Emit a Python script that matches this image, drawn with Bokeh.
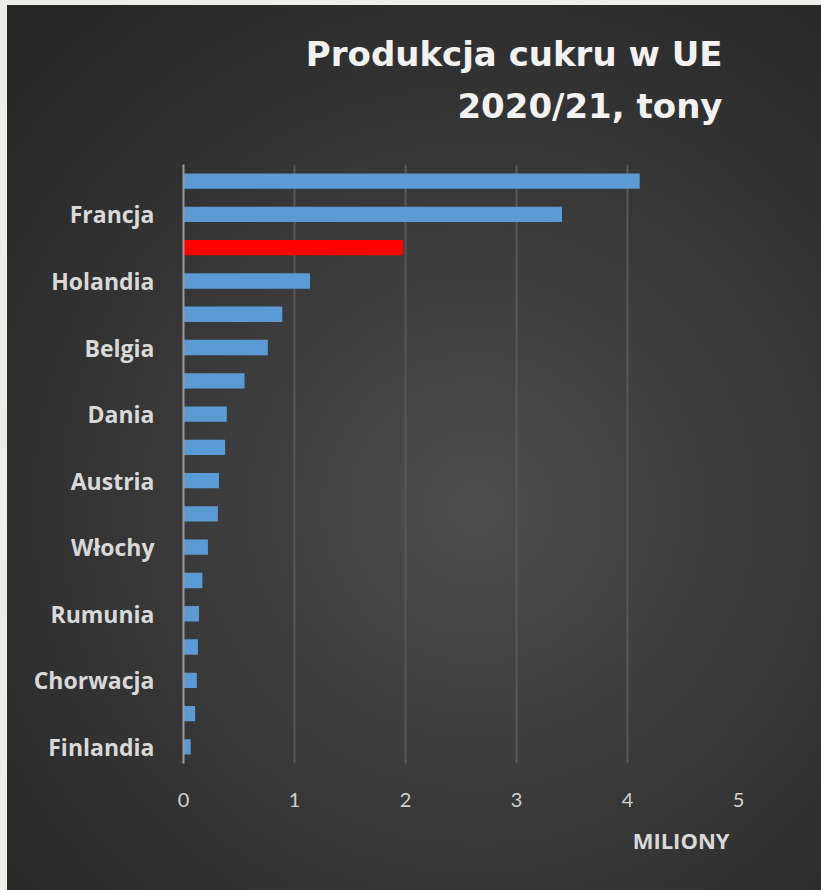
from bokeh.plotting import figure
from bokeh.models import ColumnDataSource, Range1d, FixedTicker, Title, LinearAxis
from bokeh.embed import file_html
from bokeh.resources import INLINE

# Data (million tonnes), top to bottom
countries = ["Niemcy", "Francja", "Polska", "Holandia", "Wielka Brytania", "Belgia",
             "Czechy", "Dania", "Hiszpania", "Austria", "Szwecja", "Włochy",
             "Słowacja", "Rumunia", "Węgry", "Chorwacja", "Litwa", "Finlandia"]
values = [4.11, 3.41, 1.98, 1.14, 0.89, 0.76, 0.55, 0.39, 0.375, 0.32, 0.31, 0.22,
          0.17, 0.14, 0.13, 0.12, 0.105, 0.065]
shown_labels = ["Francja", "Holandia", "Belgia", "Dania", "Austria", "Włochy",
                "Rumunia", "Chorwacja", "Finlandia"]
highlight = "Polska"
x_ticks = [0, 1, 2, 3, 4, 5]

n = len(countries)
pos = list(range(n))
colors = ["#ff0000" if c == highlight else "#5b9bd5" for c in countries]
src = ColumnDataSource(dict(country=countries, value=values, pos=pos, color=colors))

bg = ("linear-gradient(to right, #ededea 0px, #ededea 7px, transparent 7px), "
      "linear-gradient(to bottom, #ededea 0px, #ededea 5px, transparent 5px), "
      "radial-gradient(ellipse 75% 70% at 58% 57%, #4d4d4d 0%, #3b3b3b 45%, #272727 100%)")

p = figure(width=821, height=890, output_backend="svg", toolbar_location=None,
           x_range=Range1d(0, 5), y_range=Range1d(n - 0.5, -0.5),
           min_border_left=183, min_border_right=83, min_border_top=164,
           min_border_bottom=127,
           styles={"background": bg})
p.background_fill_color = None
p.border_fill_color = None
p.outline_line_color = None

# bottom (main) x axis
xax = p.below[0]
xax.ticker = FixedTicker(ticks=x_ticks)
xax.axis_line_color = None
xax.major_tick_line_color = None
xax.minor_tick_line_color = None
xax.major_label_text_font = "Lato"
xax.major_label_text_font_size = "20px"
xax.major_label_text_color = "#d0d0d0"
xax.major_label_standoff = 23

title_kw = dict(align="right", text_font="DejaVu Sans", text_font_style="bold",
                text_font_size="34px", text_color="#f2f2f2", offset=16)
p.title.text = "Produkcja cukru w UE"
for k, v in title_kw.items():
    setattr(p.title, k, v)
p.title.standoff = 19

# label-less axis used as a spacer between the title block and the plot frame
spacer = LinearAxis(ticker=FixedTicker(ticks=x_ticks), axis_line_color=None,
                    major_tick_line_color=None, minor_tick_line_color=None,
                    major_tick_in=0, major_tick_out=39, minor_tick_out=0,
                    major_label_standoff=0, major_label_text_font_size="0px",
                    major_label_overrides={t: "" for t in x_ticks})
p.add_layout(spacer, "above")
p.add_layout(Title(text="2020/21, tony", standoff=0, **title_kw), "above")

p.hbar(y="pos", right="value", left=0, height=0.46, source=src,
       fill_color="color", line_color=None)

p.add_layout(Title(text="MILIONY", align="right", offset=9, standoff=27,
                   text_font="Open Sans", text_font_style="bold",
                   text_font_size="22px", text_color="#d9d9d9"), "below")

# y axis
label_pos = [countries.index(c) for c in shown_labels]
p.yaxis.ticker = FixedTicker(ticks=label_pos)
p.yaxis.major_label_overrides = {i: countries[i] for i in label_pos}
p.yaxis.axis_line_color = "#9a9a9a"
p.yaxis.axis_line_width = 2
p.yaxis.major_tick_line_color = None
p.yaxis.minor_tick_line_color = None
p.yaxis.major_label_text_font = "Open Sans"
p.yaxis.major_label_text_font_style = "bold"
p.yaxis.major_label_text_font_size = "23px"
p.yaxis.major_label_text_color = "#d9d9d9"
p.yaxis.major_label_standoff = 23

p.xgrid.grid_line_color = "#575757"
p.xgrid.grid_line_width = 2
p.ygrid.grid_line_color = None

open("out.html", "w").write(file_html(p, INLINE))
